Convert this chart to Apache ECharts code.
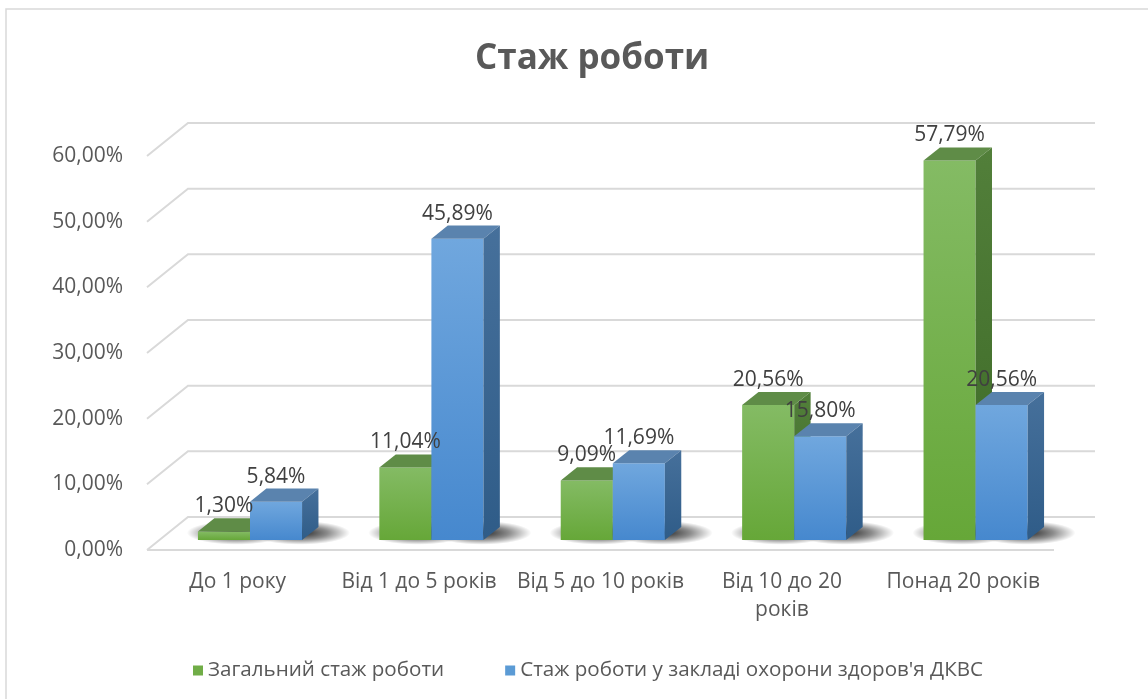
<!DOCTYPE html>
<html>
<head>
<meta charset="utf-8">
<script src="https://cdn.jsdelivr.net/npm/echarts@6/dist/echarts.min.js"></script>
<style>
  html, body { margin: 0; padding: 0; background: #fff; }
  #main { width: 1148px; height: 699px; }
</style>
</head>
<body>
<div id="main"></div>
<script>
// chart data
var categories = ['До 1 року', 'Від 1 до 5 років', 'Від 5 до 10 років', 'Від 10 до 20 років', 'Понад 20 років'];
var totalExp = [1.30, 11.04, 9.09, 20.56, 57.79];
var facilityExp = [5.84, 45.89, 11.69, 15.80, 20.56];
var yTicks = [0, 10, 20, 30, 40, 50, 60];

window.addEventListener('load', function () {
    var chart = echarts.init(document.getElementById('main'));

    // depth of the floor (front edge -> back wall), px
    var DX = 41, DY = -33;
    var FONT = '"Open Sans", sans-serif';
    var TXT = '#595959';

    function fmt(v) {
        return v.toFixed(2).replace('.', ',') + '%';
    }

    var green = {
        front: new echarts.graphic.LinearGradient(0, 0, 0, 1, [
            { offset: 0, color: '#84bb64' }, { offset: 1, color: '#66a738' }]),
        top: '#5f8c47',
        side: new echarts.graphic.LinearGradient(0, 0, 0, 1, [
            { offset: 0, color: '#527f3a' }, { offset: 1, color: '#3d6a27' }]),
        legend: '#70ad47'
    };
    var blue = {
        front: new echarts.graphic.LinearGradient(0, 0, 0, 1, [
            { offset: 0, color: '#70a7de' }, { offset: 1, color: '#4688ce' }]),
        top: '#5a83ae',
        side: new echarts.graphic.LinearGradient(0, 0, 0, 1, [
            { offset: 0, color: '#46709b' }, { offset: 1, color: '#2f5c88' }]),
        legend: '#5b9bd5'
    };

    function barRender(pos, pal) {
        return function (params, api) {
            var cat = api.value(0), v = api.value(1);
            var base = api.coord([cat, 0]);
            var top = api.coord([cat, v]);
            var band = api.size([1, 0])[0];
            var w = band * 0.287;
            var fx = base[0] + DX * 0.3 + (pos === 0 ? -w : 0);
            var by = base[1] + DY * 0.3;
            var ty = top[1] + DY * 0.3;
            var dx = DX * 0.4, dy = DY * 0.4;
            var shadowFill = new echarts.graphic.RadialGradient(0.5, 0.5, 0.5, [
                { offset: 0, color: 'rgba(0,0,0,0.85)' },
                { offset: 0.55, color: 'rgba(0,0,0,0.45)' },
                { offset: 1, color: 'rgba(0,0,0,0)' }]);
            return {
                type: 'group',
                children: [
                    {
                        type: 'circle',
                        shape: { cx: 0, cy: 0, r: w * 0.95 },
                        x: fx + w * 0.5 + dx + (pos === 1 ? 8 : -4),
                        y: by + dy * 0.55,
                        scaleY: 0.24,
                        z2: -10,
                        style: { fill: shadowFill }
                    },
                    {
                        type: 'rect',
                        shape: { x: fx, y: ty, width: w, height: by - ty },
                        style: { fill: pal.front }
                    },
                    {
                        type: 'polygon',
                        shape: { points: [[fx, ty], [fx + w, ty], [fx + w + dx, ty + dy], [fx + dx, ty + dy]] },
                        style: { fill: pal.top }
                    },
                    {
                        type: 'polygon',
                        shape: { points: [[fx + w, ty], [fx + w + dx, ty + dy], [fx + w + dx, by + dy], [fx + w, by]] },
                        style: { fill: pal.side }
                    },
                    {
                        type: 'text',
                        z2: 100,
                        x: fx + w / 2,
                        y: ty + dy - 12,
                        style: {
                            text: fmt(v),
                            fill: '#404040',
                            font: '21px ' + FONT,
                            align: 'center',
                            verticalAlign: 'middle'
                        }
                    }
                ]
            };
        };
    }

    function gridRender(params, api) {
        var cs = params.coordSys;
        var y = api.coord([0, api.value(1)])[1];
        var x0 = cs.x, x1 = cs.x + cs.width;
        var lineStyle = { stroke: '#d9d9d9', lineWidth: 2, fill: null };
        var kids = [{
            type: 'polyline',
            shape: { points: [[x0, y], [x0 + DX, y + DY], [x1 + DX, y + DY]] },
            style: lineStyle
        }];
        if (api.value(1) === 0) {
            kids.push({
                type: 'line',
                shape: { x1: x0, y1: y, x2: x1, y2: y },
                style: lineStyle
            });
        }
        return { type: 'group', children: kids };
    }

    var option = {
        animation: false,
        textStyle: { fontFamily: FONT },
        title: {
            text: 'Стаж роботи',
            left: 470,
            top: 37,
            textStyle: { fontSize: 35, fontWeight: 'bold', color: TXT, fontFamily: FONT }
        },
        legend: {
            data: ['Загальний стаж роботи', "Стаж роботи у закладі охорони здоров'я ДКВС"],
            left: 188,
            top: 655,
            icon: 'rect',
            itemWidth: 10,
            itemHeight: 10,
            itemGap: 61,
            textStyle: { fontSize: 20.6, color: TXT, fontFamily: FONT }
        },
        graphic: [{
            type: 'rect',
            shape: { x: 6, y: 9, width: 1300, height: 900 },
            style: { fill: null, stroke: '#d9d9d9', lineWidth: 1.5 }
        }],
        grid: { left: 147, right: 94, top: 156, bottom: 149 },
        xAxis: {
            type: 'category',
            data: categories,
            axisLine: { show: false },
            axisTick: { show: false },
            axisLabel: {
                color: TXT,
                fontSize: 21,
                lineHeight: 28,
                margin: 18,
                interval: 0,
                formatter: function (v) {
                    if (v.length > 17) {
                        var i = v.lastIndexOf(' ');
                        return v.slice(0, i) + '\n' + v.slice(i + 1);
                    }
                    return v;
                }
            }
        },
        yAxis: {
            type: 'value',
            min: 0,
            max: 60,
            interval: 10,
            axisLine: { show: false },
            axisTick: { show: false },
            splitLine: { show: false },
            axisLabel: {
                color: TXT,
                fontSize: 21,
                margin: 24,
                formatter: function (v) { return fmt(v); }
            }
        },
        series: [
            {
                type: 'custom',
                name: 'grid',
                z: 1,
                silent: true,
                renderItem: gridRender,
                data: yTicks.map(function (t) { return [0, t]; })
            },
            {
                type: 'custom',
                name: 'Загальний стаж роботи',
                z: 2,
                itemStyle: { color: green.legend },
                renderItem: barRender(0, green),
                data: totalExp.map(function (v, i) { return [i, v]; })
            },
            {
                type: 'custom',
                name: "Стаж роботи у закладі охорони здоров'я ДКВС",
                z: 2,
                itemStyle: { color: blue.legend },
                renderItem: barRender(1, blue),
                data: facilityExp.map(function (v, i) { return [i, v]; })
            }
        ]
    };

    chart.setOption(option);
}, false);
</script>
</body>
</html>
